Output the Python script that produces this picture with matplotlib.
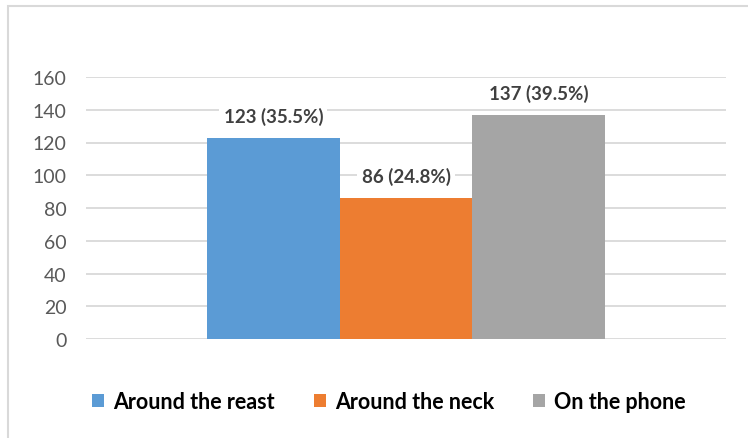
import matplotlib.pyplot as plt
from matplotlib.patches import Rectangle, Patch

# Where the phone is carried (counts and share)
categories = ['Around the reast', 'Around the neck', 'On the phone']
counts = [123, 86, 137]
percents = [35.5, 24.8, 39.5]
colors = ['#5b9bd5', '#ed7d31', '#a5a5a5']
yticks = [0, 20, 40, 60, 80, 100, 120, 140, 160]

plt.rcParams['font.family'] = ['Lato', 'DejaVu Sans']

fig = plt.figure(figsize=(7.48, 4.39), dpi=100)
ax = fig.add_axes([86 / 748, 1 - 340 / 439, 640 / 748, 262 / 439])

# outer chart frame
fig.patches.append(Rectangle((8 / 748, -0.1), 1.2, 1.1 - 7 / 439,
                             transform=fig.transFigure, fill=False,
                             edgecolor='#d9d9d9', linewidth=1.5))

x = list(range(len(categories)))
bars = ax.bar(x, counts, width=1.0, color=colors, zorder=3)

for xi, c, p in zip(x, counts, percents):
    ax.text(xi, c + 13.5, f'{c} ({p}%)', ha='center', va='center',
            fontsize=13.5, fontweight='bold', color='#404040', zorder=4,
            bbox=dict(facecolor='white', edgecolor='none', pad=3))

ax.set_xlim(-1.412, 3.412)
ax.set_ylim(0, 160)
ax.set_yticks(yticks)
ax.set_xticks([])
ax.tick_params(axis='y', length=0, pad=14, labelsize=14, labelcolor='#595959')
ax.grid(axis='y', color='#d9d9d9', linewidth=1.3, zorder=0)
for s in ax.spines.values():
    s.set_visible(False)

handles = [Patch(facecolor=col, edgecolor='none') for col in colors]
fig.legend(handles, categories, loc='center', bbox_to_anchor=(389 / 748, 1 - 403 / 439),
           ncol=3, frameon=False, handlelength=0.56, handleheight=0.56,
           handletextpad=0.42, columnspacing=1.8,
           prop={'size': 15.5, 'weight': 'bold'})

fig.savefig('out.png', dpi=100)
